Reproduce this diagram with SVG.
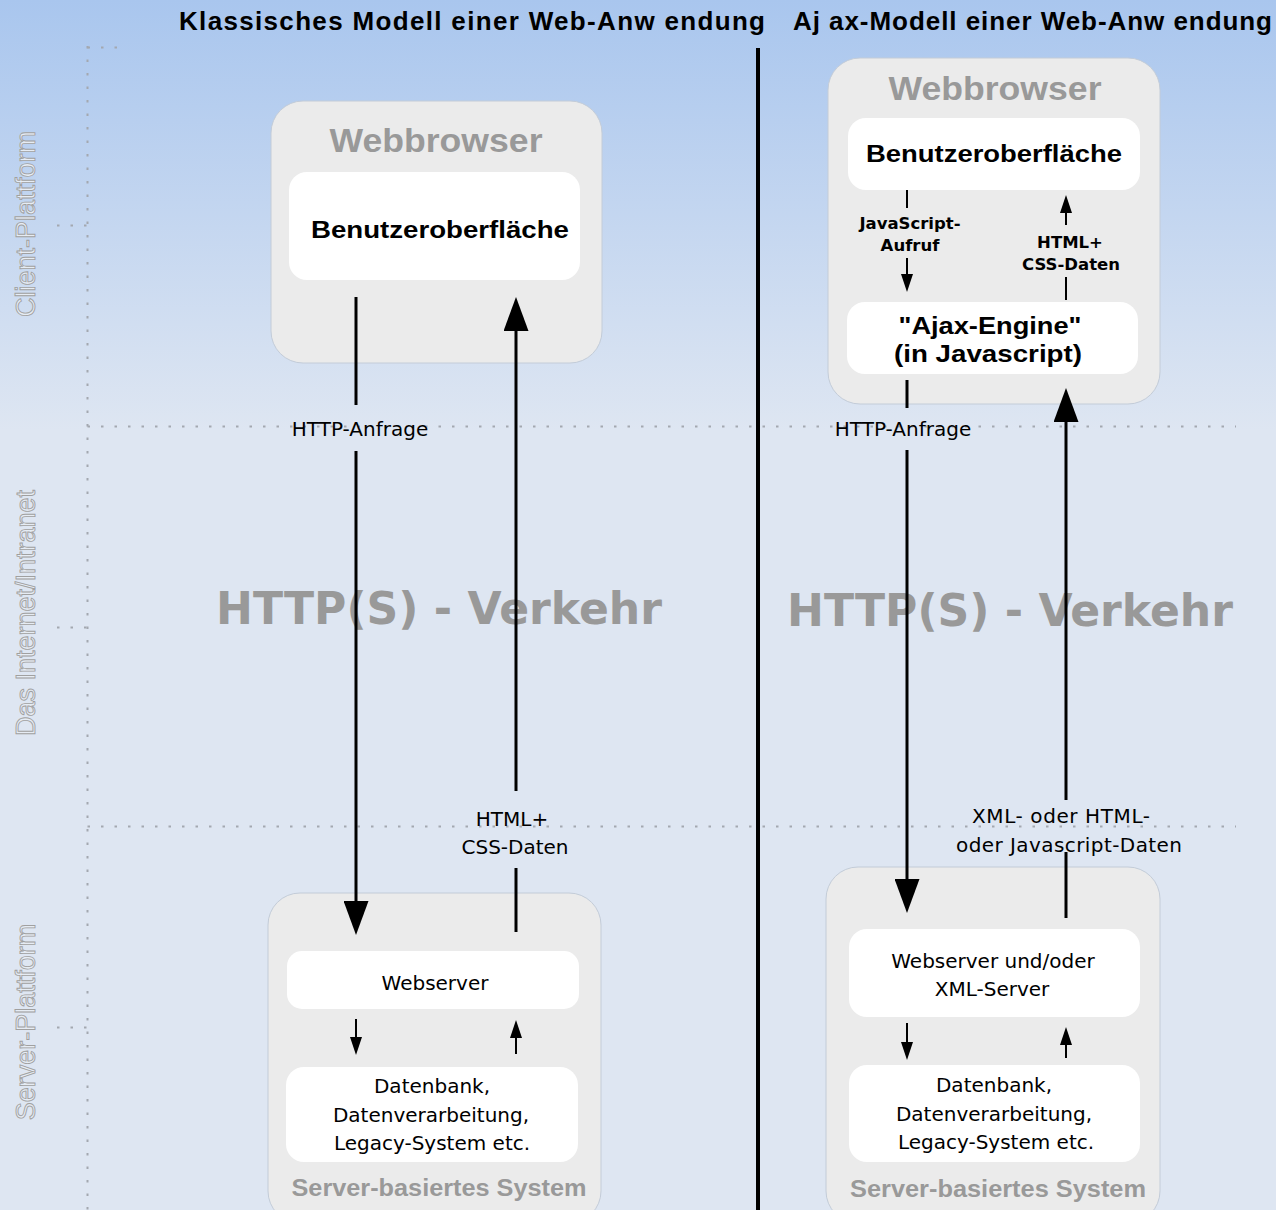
<svg xmlns="http://www.w3.org/2000/svg" width="1276" height="1210" viewBox="0 0 1276 1210">
<defs>
<linearGradient id="bg" x1="0" y1="0" x2="0" y2="430" gradientUnits="userSpaceOnUse">
<stop offset="0" stop-color="#a9c6ee"/>
<stop offset="1" stop-color="#dee6f2"/>
</linearGradient>
<marker id="big" viewBox="0 0 34 25" refX="20" refY="12.5" markerWidth="34" markerHeight="25" markerUnits="userSpaceOnUse" orient="auto">
<path d="M0,0 L34,12.5 L0,25 Z" fill="#000"/>
</marker>
<marker id="small" viewBox="0 0 18 12" refX="10" refY="6" markerWidth="18" markerHeight="12" markerUnits="userSpaceOnUse" orient="auto">
<path d="M0,0 L18,6 L0,12 Z" fill="#000"/>
</marker>
<style>
.outer{fill:#ebebeb;stroke:#c3ccd8;stroke-width:1}
.inner{fill:#ffffff}
.ln{stroke:#000;stroke-width:3;fill:none}
.lns{stroke:#000;stroke-width:2;fill:none}
.dot{stroke:#a3a8b0;stroke-width:2;stroke-dasharray:2.5 11;fill:none}
.title{font-family:"Liberation Sans",Arial,sans-serif;font-weight:bold;font-size:26px;fill:#000}
.side{font-family:"Liberation Sans",Arial,sans-serif;font-size:27px;fill:#e6ecf4;stroke:#a0a0a0;stroke-width:0.9;text-anchor:middle}
.gray{font-family:"Liberation Sans",Arial,sans-serif;font-weight:bold;fill:#999999;text-anchor:middle}
.big{font-family:"DejaVu Sans",sans-serif;font-weight:bold;font-size:44px;fill:#999999;text-anchor:middle}
.hd{font-family:"Liberation Sans",Arial,sans-serif;font-weight:bold;font-size:24px;fill:#000;text-anchor:middle}
.lb{font-family:"DejaVu Sans",sans-serif;font-size:20px;fill:#000;text-anchor:middle}
.lbs{font-family:"DejaVu Sans",sans-serif;font-weight:bold;font-size:16.5px;fill:#000;text-anchor:middle}
</style>
</defs>
<rect x="0" y="0" width="1276" height="1210" fill="url(#bg)"/>

<g id="grid">
<path class="dot" d="M87.5,46 V1210"/>
<path class="dot" d="M87.5,47.5 H120"/>
<path class="dot" d="M87.5,426.5 H1236"/>
<path class="dot" d="M87.5,826.5 H1236"/>
<path class="dot" d="M57,225.5 H87"/>
<path class="dot" d="M57,627.5 H87"/>
<path class="dot" d="M57,1027.5 H87"/>
</g>

<g id="side-labels">
<text class="side" transform="translate(35,224) rotate(-90)">Client-Plattform</text>
<text class="side" transform="translate(35,613) rotate(-90)">Das Internet/Intranet</text>
<text class="side" transform="translate(35,1022) rotate(-90)">Server-Plattform</text>
</g>

<g id="titles">
<text class="title" x="179" y="30" textLength="586" lengthAdjust="spacing">Klassisches Modell einer Web-Anw endung</text>
<text class="title" x="793" y="30" textLength="479" lengthAdjust="spacing">Aj ax-Modell einer Web-Anw endung</text>
</g>

<g id="divider">
<line x1="758" y1="48" x2="758" y2="1210" stroke="#000" stroke-width="4"/>
</g>

<g id="traffic">
<text class="big" x="439" y="624" textLength="446" lengthAdjust="spacingAndGlyphs">HTTP(S) - Verkehr</text>
<text class="big" x="1010" y="626" textLength="446" lengthAdjust="spacingAndGlyphs">HTTP(S) - Verkehr</text>
</g>

<g id="classic-browser">
<rect class="outer" x="271" y="101" width="331" height="262" rx="32"/>
<text class="gray" x="436" y="152" font-size="34" textLength="213" lengthAdjust="spacingAndGlyphs">Webbrowser</text>
</g>
<g id="classic-ui">
<rect class="inner" x="289" y="172" width="291" height="108" rx="18"/>
<text class="hd" x="440" y="238" textLength="258" lengthAdjust="spacingAndGlyphs">Benutzeroberfläche</text>
</g>

<g id="classic-server">
<rect class="outer" x="268" y="893" width="333" height="330" rx="32"/>
<text class="gray" x="439" y="1196" font-size="23" textLength="295" lengthAdjust="spacingAndGlyphs">Server-basiertes System</text>
</g>
<g id="classic-webserver">
<rect class="inner" x="287" y="951" width="292" height="58" rx="15"/>
<text class="lb" x="435" y="990">Webserver</text>
</g>
<g id="classic-db">
<rect class="inner" x="286" y="1067" width="292" height="95" rx="18"/>
<text class="lb" x="432" y="1093">Datenbank,</text>
<text class="lb" x="431" y="1122">Datenverarbeitung,</text>
<text class="lb" x="432" y="1150">Legacy-System etc.</text>
</g>

<g id="ajax-browser">
<rect class="outer" x="828" y="58" width="332" height="346" rx="32"/>
<text class="gray" x="995" y="100" font-size="34" textLength="213" lengthAdjust="spacingAndGlyphs">Webbrowser</text>
</g>
<g id="ajax-ui">
<rect class="inner" x="848" y="118" width="292" height="72" rx="18"/>
<text class="hd" x="994" y="162" textLength="256" lengthAdjust="spacingAndGlyphs">Benutzeroberfläche</text>
</g>
<g id="ajax-engine">
<rect class="inner" x="847" y="302" width="291" height="72" rx="18"/>
<text class="hd" x="990" y="334" textLength="183" lengthAdjust="spacingAndGlyphs">"Ajax-Engine"</text>
<text class="hd" x="988" y="362" textLength="188" lengthAdjust="spacingAndGlyphs">(in Javascript)</text>
</g>

<g id="ajax-server">
<rect class="outer" x="826" y="867" width="334" height="356" rx="32"/>
<text class="gray" x="998" y="1197" font-size="23" textLength="296" lengthAdjust="spacingAndGlyphs">Server-basiertes System</text>
</g>
<g id="ajax-webserver">
<rect class="inner" x="849" y="929" width="291" height="88" rx="18"/>
<text class="lb" x="993" y="968">Webserver und/oder</text>
<text class="lb" x="992" y="996">XML-Server</text>
</g>
<g id="ajax-db">
<rect class="inner" x="849" y="1065" width="291" height="97" rx="18"/>
<text class="lb" x="994" y="1092">Datenbank,</text>
<text class="lb" x="994" y="1121">Datenverarbeitung,</text>
<text class="lb" x="996" y="1149">Legacy-System etc.</text>
</g>

<g id="connectors">
<line class="ln" x1="356" y1="297" x2="356" y2="405"/>
<line class="ln" x1="356" y1="451" x2="356" y2="921" marker-end="url(#big)"/>
<text class="lb" x="360" y="436" font-size="20.5">HTTP-Anfrage</text>
<line class="ln" x1="516" y1="932" x2="516" y2="868"/>
<line class="ln" x1="516" y1="791" x2="516" y2="311" marker-end="url(#big)"/>
<text class="lb" x="512" y="826">HTML+</text>
<text class="lb" x="515" y="854">CSS-Daten</text>
<line class="lns" x1="356" y1="1019" x2="356" y2="1047" marker-end="url(#small)"/>
<line class="lns" x1="516" y1="1054" x2="516" y2="1028" marker-end="url(#small)"/>
<line class="lns" x1="907" y1="190" x2="907" y2="208"/>
<text class="lbs" x="910" y="229">JavaScript-</text>
<text class="lbs" x="910" y="251">Aufruf</text>
<line class="lns" x1="907" y1="258" x2="907" y2="284" marker-end="url(#small)"/>
<line class="lns" x1="1066" y1="225" x2="1066" y2="203" marker-end="url(#small)"/>
<text class="lbs" x="1070" y="248">HTML+</text>
<text class="lbs" x="1071" y="270">CSS-Daten</text>
<line class="lns" x1="1066" y1="277" x2="1066" y2="300"/>
<line class="ln" x1="907" y1="380" x2="907" y2="408"/>
<line class="ln" x1="907" y1="450" x2="907" y2="899" marker-end="url(#big)"/>
<text class="lb" x="903" y="436" font-size="20.5">HTTP-Anfrage</text>
<line class="ln" x1="1066" y1="918" x2="1066" y2="852"/>
<line class="ln" x1="1066" y1="800" x2="1066" y2="402" marker-end="url(#big)"/>
<text class="lb" x="1061" y="823" textLength="178" lengthAdjust="spacing">XML- oder HTML-</text>
<text class="lb" x="1069" y="852" textLength="226" lengthAdjust="spacing">oder Javascript-Daten</text>
<line class="lns" x1="907" y1="1023" x2="907" y2="1052" marker-end="url(#small)"/>
<line class="lns" x1="1066" y1="1058" x2="1066" y2="1035" marker-end="url(#small)"/>
</g>
</svg>
